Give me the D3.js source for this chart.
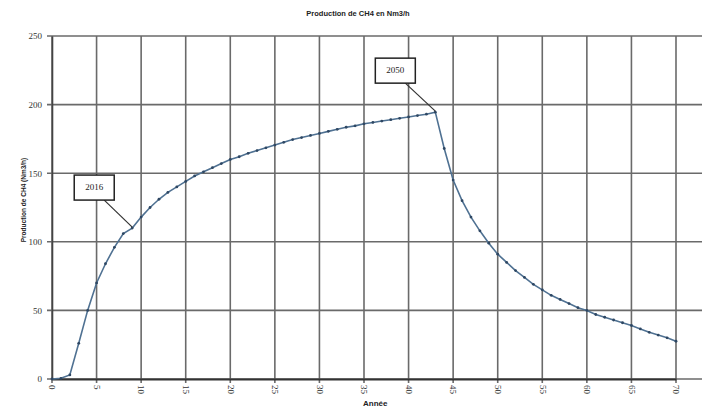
<!DOCTYPE html>
<html>
<head>
<meta charset="utf-8">
<script src="https://cdn.jsdelivr.net/npm/d3@7"></script>
<style>
	body { margin: 0; background: #fff; }
	#graph { width: 705px; height: 410px; }
	text { font-family: "Liberation Serif", serif; }
</style>
</head>
<body>
<div id="graph"></div>
<script>
	// years since 2007 and CH4 production
	var years = d3.range(0, 71);
	var production = [
		0, 0.5, 3, 26, 50, 70, 84, 96, 106, 110,
		118, 125, 131, 136, 140, 144, 148, 151, 154, 157,
		160, 162, 164.5, 166.5, 168.5, 170.5, 172.5, 174.5, 176, 177.5,
		179, 180.5, 182, 183.5, 184.5, 186, 187, 188, 189, 190,
		191, 192, 193, 194.5, 168, 145, 130, 118, 108, 99,
		91, 85, 79, 74, 69, 65, 61, 58, 55, 52,
		50, 47, 45, 43, 41, 39, 36.5, 34, 32, 30, 27.5
	];
	var xTicks = d3.range(0, 71, 5);
	var yTicks = [0, 50, 100, 150, 200, 250];
	var callouts = [
		{label: "2016", year: 9},
		{label: "2050", year: 43},
	];

	var dataset = years.map((y, i) => ({year: y, value: production[i]}));

	var margin = {left: 52, top: 36, right: 705 - 676, bottom: 410 - 379};
	var gridright = 702;

	var svg = d3.select("#graph").append("svg")
		.attr("width", 705)
		.attr("height", 410);

	var xScale = d3.scaleLinear().domain([0, 70]).range([margin.left, 676]);
	var yScale = d3.scaleLinear().domain([0, 250]).range([379, margin.top]);

	// grid
	let grid = svg.append("g").attr("stroke", "#6a6a6a").attr("stroke-width", 1.6);
	grid.selectAll("line.h")
		.data(yTicks)
		.join("line")
		.attr("class", "h")
		.attr("x1", margin.left - 5)
		.attr("x2", gridright)
		.attr("y1", d => yScale(d))
		.attr("y2", d => yScale(d));
	grid.selectAll("line.v")
		.data(xTicks)
		.join("line")
		.attr("class", "v")
		.attr("x1", d => xScale(d))
		.attr("x2", d => xScale(d))
		.attr("y1", yScale(250))
		.attr("y2", yScale(0) + 4);

	// axes (labels only, lines drawn above)
	let xAxis = svg.append("g")
		.attr("transform", `translate(0, ${yScale(0)})`)
		.call(d3.axisBottom(xScale).tickValues(xTicks).tickSize(0).tickPadding(0));
	xAxis.select(".domain").attr("stroke", "#333").attr("stroke-width", 1.8);
	xAxis.selectAll("text")
		.attr("transform", "rotate(90)")
		.attr("x", 6)
		.attr("y", 0)
		.attr("dy", "0.35em")
		.attr("text-anchor", "start")
		.style("font-size", "9px")
		.style("fill", "#333");

	let yAxis = svg.append("g")
		.attr("transform", `translate(${margin.left}, 0)`)
		.call(d3.axisLeft(yScale).tickValues(yTicks).tickSize(0).tickPadding(10));
	yAxis.select(".domain").attr("stroke", "#444").attr("stroke-width", 1.6);
	yAxis.selectAll("text")
		.style("font-size", "9px")
		.style("fill", "#333");

	// title and axis titles
	svg.append("text")
		.attr("x", 358)
		.attr("y", 16)
		.attr("text-anchor", "middle")
		.style("font-family", "Liberation Sans, sans-serif")
		.style("font-weight", "bold")
		.style("font-size", "7.5px")
		.style("fill", "#222")
		.text("Production de CH4 en Nm3/h");

	svg.append("text")
		.attr("x", 363)
		.attr("y", 406)
		.style("font-family", "Liberation Sans, sans-serif")
		.style("font-weight", "bold")
		.style("font-size", "8px")
		.style("fill", "#222")
		.text("Année");

	svg.append("text")
		.attr("transform", `translate(26, 200) rotate(-90)`)
		.attr("text-anchor", "middle")
		.style("font-family", "Liberation Sans, sans-serif")
		.style("font-weight", "bold")
		.style("font-size", "6.5px")
		.style("fill", "#222")
		.text("Production de CH4 (Nm3/h)");

	// series
	let drawline = d3.line()
		.x(d => xScale(d.year))
		.y(d => yScale(d.value));

	svg.append("path")
		.attr("d", drawline(dataset))
		.attr("fill", "none")
		.attr("stroke", "#4f7192")
		.attr("stroke-width", 1.6);

	svg.append("g").selectAll("circle")
		.data(dataset)
		.join("circle")
		.attr("cx", d => xScale(d.year))
		.attr("cy", d => yScale(d.value))
		.attr("r", 1.4)
		.style("fill", "#2e4763");

	// callouts
	let boxoffset = {"2016": [-58, -53], "2050": [-60, -54]};
	callouts.forEach(c => {
		let px = xScale(c.year), py = yScale(production[c.year]);
		let off = boxoffset[c.label];
		let bx = px + off[0], by = py + off[1];
		let g = svg.append("g");
		g.append("line")
			.attr("x1", bx + 30)
			.attr("y1", by + 25)
			.attr("x2", px)
			.attr("y2", py - 1)
			.attr("stroke", "#333")
			.attr("stroke-width", 1.2);
		g.append("rect")
			.attr("x", bx)
			.attr("y", by)
			.attr("width", 40)
			.attr("height", 25)
			.attr("fill", "#fff")
			.attr("stroke", "#222")
			.attr("stroke-width", 1.5);
		g.append("text")
			.attr("x", bx + 20)
			.attr("y", by + 12.5)
			.attr("text-anchor", "middle")
			.attr("dominant-baseline", "middle")
			.style("font-size", "9px")
			.style("fill", "#222")
			.text(c.label);
	});
</script>
</body>
</html>
